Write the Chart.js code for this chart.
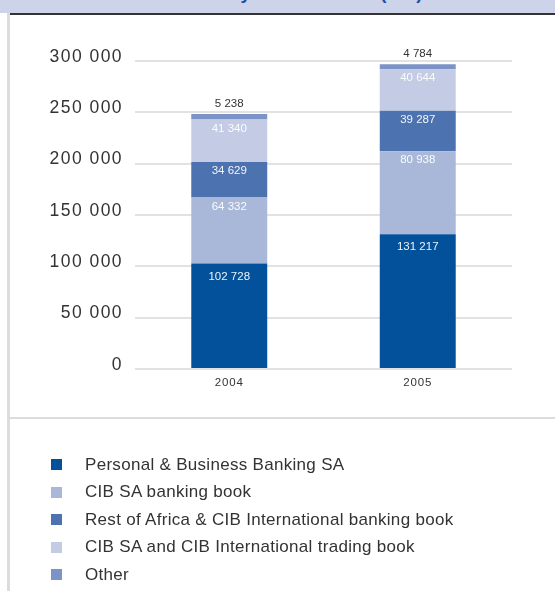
<!DOCTYPE html>
<html>
<head>
<meta charset="utf-8">
<script src="https://cdn.jsdelivr.net/npm/chart.js@4.4.1/dist/chart.umd.min.js"></script>
<style>
  html, body { margin: 0; padding: 0; background: #fff; }
  body { width: 555px; height: 591px; position: relative; overflow: hidden; font-family: 'Liberation Sans', Arial, sans-serif; }
  #band { position: absolute; left: 0; top: 0; width: 555px; height: 13px; background: #cdd3e8; overflow: hidden; }
  #band span { position: absolute; left: 0; width: 555px; text-align: center; top: -15.7px;
               font: bold 18.5px/1 'Liberation Sans', Arial, sans-serif; color: #1d4f9c; white-space: nowrap; }
  #rule { position: absolute; left: 10px; top: 13px; width: 545px; height: 2px; background: #333; }
  #vline { position: absolute; left: 7px; top: 13px; width: 3px; height: 578px; background: #dcdcdc; }
  #sep { position: absolute; left: 10px; top: 417px; width: 545px; height: 2px; background: #dcdcdc; }
  #chart { position: absolute; left: 0; top: 0; }
  #legend { position: absolute; left: 0; top: 451px; margin: 0; padding: 0; list-style: none; }
  #legend li { height: 27.5px; display: flex; align-items: center; }
  #legend i { display: block; width: 11px; height: 11px; margin-left: 51px; margin-right: 23px; }
  #legend span { font-size: 17px; color: #333; letter-spacing: 0.3px; }
</style>
</head>
<body>
<div id="band"><span>Credit risk by business unit (Rm)</span></div>
<canvas id="chart" width="555" height="591"></canvas>
<div id="rule"></div>
<div id="vline"></div>
<div id="sep"></div>
<ul id="legend"></ul>
<script>
// Categories and series (Rm)
const years = ['2004', '2005'];
const personalBusiness = [102728, 131217];
const cibBankingBook = [64332, 80938];
const restOfAfricaIntl = [34629, 39287];
const tradingBook = [41340, 40644];
const other = [5238, 4784];

// Value-axis ticks
const yTickValues = [0, 50000, 100000, 150000, 200000, 250000, 300000];

const seriesNames = [
  'Personal & Business Banking SA',
  'CIB SA banking book',
  'Rest of Africa & CIB International banking book',
  'CIB SA and CIB International trading book',
  'Other'
];
const seriesColors = ['#03519b', '#a9b8d9', '#4d72b0', '#c4cbe4', '#7b93c6'];

const FONT = "'Liberation Sans', Arial, sans-serif";

function fmt(v) {
  return String(v).replace(/\B(?=(\d{3})+(?!\d))/g, ' ');
}

// Value labels on the segments, plus letter spacing for the axis text
const barLabels = {
  id: 'barLabels',
  beforeDraw(chart) { chart.ctx.letterSpacing = '1.45px'; },
  beforeDatasetsDraw(chart) { chart.ctx.letterSpacing = '0px'; },
  afterDatasetsDraw(chart) {
    const ctx = chart.ctx;
    ctx.save();
    ctx.letterSpacing = '0px';
    ctx.textAlign = 'center';
    ctx.textBaseline = 'middle';
    ctx.font = '11.5px ' + FONT;
    chart.data.datasets.forEach((ds, i) => {
      const meta = chart.getDatasetMeta(i);
      meta.data.forEach((bar, j) => {
        const text = fmt(ds.data[j]);
        if (ds.labelOutside) {
          ctx.fillStyle = '#333';
          ctx.fillText(text, bar.x, bar.y - 10);
        } else {
          ctx.fillStyle = 'rgba(255,255,255,0.93)';
          ctx.fillText(text, bar.x, bar.y + ds.labelInset);
        }
      });
    });
    ctx.restore();
    ctx.letterSpacing = '0.9px';
  },
  afterDraw(chart) { chart.ctx.letterSpacing = '0px'; }
};

const seriesData = [personalBusiness, cibBankingBook, restOfAfricaIntl, tradingBook, other];

const chart = new Chart(document.getElementById('chart'), {
  type: 'bar',
  data: {
    labels: years,
    datasets: seriesData.map((d, i) => ({
      label: seriesNames[i],
      data: d,
      backgroundColor: seriesColors[i],
      borderWidth: 0,
      barPercentage: 0.403,
      categoryPercentage: 1,
      labelInset: i === 0 ? 13 : 9,
      labelOutside: i === 4
    }))
  },
  options: {
    responsive: false,
    animation: false,
    devicePixelRatio: 1,
    layout: { padding: { left: 0, top: 61, right: 43, bottom: 202 } },
    plugins: { legend: { display: false }, tooltip: { enabled: false } },
    scales: {
      x: {
        stacked: true,
        grid: { display: false, drawTicks: false },
        border: { display: false },
        ticks: { color: '#333', font: { family: FONT, size: 11.5 }, padding: 7, z: 1 },
        afterFit(s) { s.height = 20; }
      },
      y: {
        stacked: true,
        min: 0,
        max: 300000,
        afterBuildTicks(s) { s.ticks = yTickValues.map(v => ({ value: v })); },
        grid: { color: '#e2e2e2', lineWidth: 2, drawTicks: false },
        border: { display: false },
        ticks: {
          color: '#333',
          font: { family: FONT, size: 17.5 },
          padding: 12,
          labelOffset: -4,
          callback: v => fmt(v)
        },
        afterFit(s) { s.width = 135; }
      }
    }
  },
  plugins: [barLabels]
});

// Legend list built from the chart's datasets
const legend = document.getElementById('legend');
chart.data.datasets.forEach(ds => {
  const li = document.createElement('li');
  const sw = document.createElement('i');
  sw.style.background = ds.backgroundColor;
  const tx = document.createElement('span');
  tx.textContent = ds.label;
  li.appendChild(sw);
  li.appendChild(tx);
  legend.appendChild(li);
});
</script>
</body>
</html>
